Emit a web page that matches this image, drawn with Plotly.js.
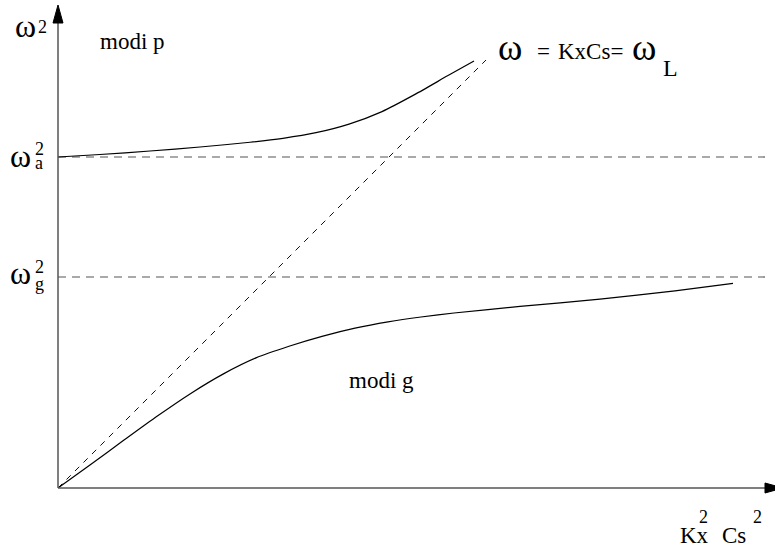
<!DOCTYPE html>
<html>
<head>
<meta charset="utf-8">
<script src="https://cdn.plot.ly/plotly-3.0.1.min.js"></script>
<style>html,body{margin:0;padding:0;background:#fff;}#chart{width:775px;height:548px;}</style>
</head>
<body>
<div id="chart"></div>
<script>
// Schematic dispersion diagram (arbitrary units: horizontal Kx^2 Cs^2, vertical omega^2)
var pModeX = [0, 0.42, 0.92, 1.42, 1.92, 2.25, 2.58, 2.91, 3.24, 3.57, 3.90, 4.16];
var pModeY = [3.31, 3.335, 3.37, 3.41, 3.4575, 3.497, 3.553, 3.639, 3.764, 3.936, 4.124, 4.27];
var gModeX = [0, 0.33, 0.66, 0.99, 1.32, 1.65, 1.98, 2.31, 2.64, 2.97, 3.30, 3.63, 3.96, 4.62, 5.42, 6.17, 6.75];
var gModeY = [0, 0.238, 0.479, 0.717, 0.941, 1.139, 1.301, 1.417, 1.516, 1.598, 1.661, 1.71, 1.75, 1.816, 1.888, 1.971, 2.046];
var omegaA2 = 3.31;
var omegaG2 = 2.11;
var levelX = [0, 7.07];
var lambX = [0, 4.28];
var lambY = [0, 4.28];

var W = 775, H = 548, ML = 58, MB = 60, MT = 0, MR = 0;
var PW = W - ML - MR, PH = H - MT - MB;
function px(x){ return (x - ML) / PW; }
function py(y){ return (H - MB - y) / PH; }

var FONT = 'Liberation Serif';

var traces = [
  {x: levelX, y: [omegaA2, omegaA2], mode: 'lines', line: {color: '#555', width: 1.2, dash: '8px,6px'}, hoverinfo: 'skip'},
  {x: levelX, y: [omegaG2, omegaG2], mode: 'lines', line: {color: '#555', width: 1.2, dash: '8px,6px'}, hoverinfo: 'skip'},
  {x: lambX, y: lambY, mode: 'lines', line: {color: '#111', width: 1, dash: '6px,6px'}, hoverinfo: 'skip'},
  {x: pModeX, y: pModeY, mode: 'lines', line: {color: '#000', width: 1.2, shape: 'spline', smoothing: 0.6}, hoverinfo: 'skip'},
  {x: gModeX, y: gModeY, mode: 'lines', line: {color: '#000', width: 1.2, shape: 'spline', smoothing: 0.6}, hoverinfo: 'skip'}
];

// place text so that its baseline sits at pixel row `base`
function T(text, x, base, size){
  return {text: text, xref: 'paper', yref: 'paper', x: px(x), y: py(base + 0.3 * size),
    xanchor: 'left', yanchor: 'bottom', showarrow: false,
    font: {family: FONT, size: size, color: '#000'}, borderpad: 0};
}

var annotations = [
  T('ω', 14, 35, 32),
  T('2', 37, 33, 18),
  T('modi p', 99, 48, 23),
  T('ω', 9, 165, 32),
  T('2', 34, 155, 18),
  T('a', 34, 169, 18),
  T('ω', 9, 282, 32),
  T('2', 34, 273, 18),
  T('g', 34, 290, 18),
  T('modi g', 348, 387, 23),
  T('ω', 497, 58, 37),
  T('=', 536, 58, 23),
  T('KxCs=', 557, 58, 23),
  T('ω', 631, 58, 37),
  T('L', 662, 75, 24),
  T('Kx', 679, 542, 23),
  T('2', 698, 523, 18),
  T('Cs', 721, 542, 23),
  T('2', 752, 523, 18)
];

var shapes = [
  {type: 'line', xref: 'paper', yref: 'paper', x0: px(58), y0: py(488), x1: px(58), y1: py(18), line: {color: '#555', width: 1.5}},
  {type: 'line', xref: 'paper', yref: 'paper', x0: px(58), y0: py(488), x1: px(768), y1: py(488), line: {color: '#555', width: 1.5}},
  {type: 'path', xref: 'paper', yref: 'paper',
   path: 'M' + px(58) + ',' + py(5) + ' L' + px(53) + ',' + py(23) + ' L' + px(63) + ',' + py(23) + ' Z',
   fillcolor: '#000', line: {color: '#000', width: 1}},
  {type: 'path', xref: 'paper', yref: 'paper',
   path: 'M' + px(783) + ',' + py(488) + ' L' + px(765) + ',' + py(483) + ' L' + px(765) + ',' + py(493) + ' Z',
   fillcolor: '#000', line: {color: '#000', width: 1}}
];

var layout = {
  width: W, height: H,
  margin: {l: ML, r: MR, t: MT, b: MB, pad: 0},
  paper_bgcolor: '#fff', plot_bgcolor: '#fff',
  showlegend: false,
  font: {family: FONT},
  xaxis: {range: [0, PW / 100], showgrid: false, zeroline: false, showticklabels: false, showline: false, ticks: ''},
  yaxis: {range: [0, PH / 100], showgrid: false, zeroline: false, showticklabels: false, showline: false, ticks: ''},
  annotations: annotations,
  shapes: shapes
};

Plotly.newPlot('chart', traces, layout, {staticPlot: true, displayModeBar: false});
</script>
</body>
</html>
